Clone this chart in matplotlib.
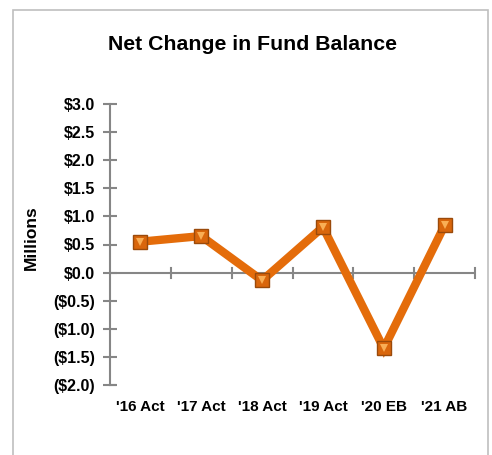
#!/usr/bin/env python3
"""
Net change in fund balance, actuals and budgets, in millions.
"""

import matplotlib
matplotlib.use('Agg')
import matplotlib.pyplot as plt
from matplotlib.patches import Rectangle

# Fiscal years and net change (millions)
YEARS = ["'16 Act", "'17 Act", "'18 Act", "'19 Act", "'20 EB", "'21 AB"]
NET_CHANGE = [0.55, 0.65, -0.14, 0.81, -1.35, 0.84]
Y_TICKS = [3.0, 2.5, 2.0, 1.5, 1.0, 0.5, 0.0, -0.5, -1.0, -1.5, -2.0]

ORANGE = '#E46C0A'
GRAY = '#868686'

plt.rcParams['font.family'] = ['Liberation Sans', 'DejaVu Sans']


def money(v):
    return f'(${abs(v):.1f})' if v < 0 else f'${v:.1f}'


def plot_chart():
    W, H = 492, 455
    fig = plt.figure(figsize=(W / 100, H / 100), dpi=100)

    # chart border
    fig.patches.append(Rectangle((13 / W, -0.05), 475 / W, 1.05 - 10 / H,
                                 transform=fig.transFigure, fill=False,
                                 edgecolor='#BFBFBF', linewidth=1.2))

    ax = fig.add_axes([110 / W, 1 - 385 / H, 365 / W, 281 / H])
    x = list(range(len(YEARS)))

    ax.plot(x, NET_CHANGE, color=ORANGE, linewidth=6, solid_joinstyle='miter', zorder=3)
    # beveled square markers
    ax.plot(x, NET_CHANGE, 's', markersize=9.5, markerfacecolor='#D9660C',
            markeredgecolor='#9A4A0B', markeredgewidth=1.0, zorder=4)
    ax.plot(x, NET_CHANGE, 'v', markersize=5.5, markerfacecolor='#F9AE55',
            markeredgewidth=0, zorder=5)

    ax.set_xlim(-0.5, len(YEARS) - 0.5)
    ax.set_ylim(-2.0, 3.0)

    for s in ['top', 'right', 'bottom']:
        ax.spines[s].set_visible(False)
    ax.spines['left'].set_color(GRAY)
    ax.spines['left'].set_linewidth(1.5)

    # zero line with category boundary ticks
    ax.axhline(0, color=GRAY, linewidth=1.5, zorder=1)
    for b in range(len(YEARS)):
        ax.plot([b + 0.5, b + 0.5], [-0.09, 0.09], color=GRAY, linewidth=1.5,
                zorder=1, clip_on=False)
    ax.plot([-0.5, -0.42], [-2.0, -2.0], color=GRAY, linewidth=1.5, clip_on=False)

    ax.set_yticks(Y_TICKS)
    ax.set_yticklabels([money(v) for v in Y_TICKS], fontsize=11.5, fontweight='bold')
    ax.tick_params(axis='y', direction='inout', length=10, width=1.5, color=GRAY, pad=6)

    ax.set_xticks(x)
    ax.set_xticklabels(YEARS, fontsize=11, fontweight='bold')
    ax.tick_params(axis='x', length=0, pad=11)

    ax.set_ylabel('Millions', fontsize=12.5, fontweight='bold')
    ax.yaxis.set_label_coords(-0.195, 0.525)
    fig.text(252 / W, 1 - 45 / H, 'Net Change in Fund Balance', ha='center',
             va='center', fontsize=15.3, fontweight='bold')

    fig.savefig('out.png', dpi=100)


if __name__ == '__main__':
    plot_chart()
